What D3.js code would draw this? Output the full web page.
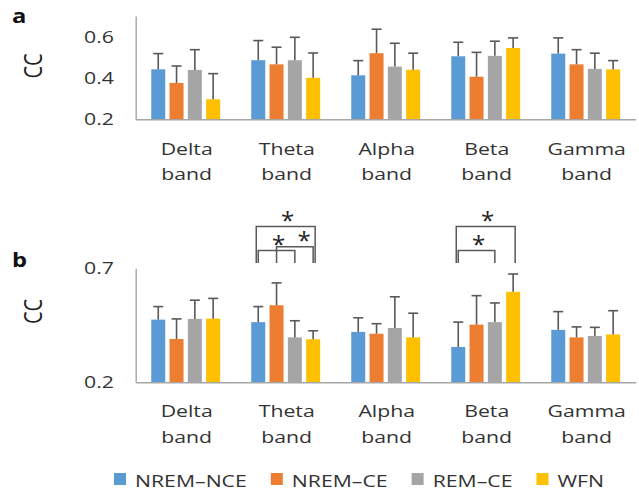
<!DOCTYPE html>
<html><head><meta charset="utf-8">
<script src="https://cdn.jsdelivr.net/npm/d3@7"></script>
<style>html,body{margin:0;padding:0;background:#fff;} svg{display:block;}</style>
</head><body>
<svg id="chart" width="639" height="491"></svg>
<script>
const bands = ["Delta", "Theta", "Alpha", "Beta", "Gamma"];
const bandLine2 = "band";
const series = ["NREM–NCE", "NREM–CE", "REM–CE", "WFN"];
const colors = ["#5B9BD5", "#ED7D31", "#A5A5A5", "#FFC000"];

// Panel a: means and upper error (SD) per band, series order as above
const aMean = [
  [0.442, 0.376, 0.439, 0.297],
  [0.486, 0.466, 0.486, 0.401],
  [0.413, 0.520, 0.455, 0.440],
  [0.505, 0.406, 0.507, 0.545],
  [0.518, 0.466, 0.444, 0.442]
];
const aSD = [
  [0.076, 0.082, 0.098, 0.124],
  [0.095, 0.083, 0.111, 0.120],
  [0.071, 0.116, 0.113, 0.080],
  [0.068, 0.118, 0.071, 0.049],
  [0.076, 0.071, 0.076, 0.042]
];
// Panel b
const bMean = [
  [0.475, 0.390, 0.478, 0.479],
  [0.464, 0.538, 0.397, 0.389],
  [0.421, 0.413, 0.438, 0.397],
  [0.355, 0.453, 0.464, 0.597],
  [0.430, 0.397, 0.403, 0.410]
];
const bSD = [
  [0.057, 0.088, 0.082, 0.089],
  [0.068, 0.098, 0.073, 0.037],
  [0.062, 0.044, 0.137, 0.106],
  [0.109, 0.127, 0.084, 0.078],
  [0.080, 0.046, 0.038, 0.104]
];
const aTicks = [0.2, 0.4, 0.6];
const bTicks = [0.2, 0.7];
const yDomain = [0.2, 0.7];
// significance brackets in panel b: band, from series, to series, nesting level
const sigBand = ["Theta", "Theta", "Theta", "Beta", "Beta"];
const sigFrom = [0, 0, 1, 0, 0];
const sigTo   = [3, 2, 3, 3, 2];
const sigLevel = [2, 0, 1, 2, 0];
const sigMark = "*";

const svg = d3.select("#chart");
const FONT = "'Open Sans', 'Noto Sans', sans-serif";
const SX = 1.25;
const TXT = "#333333";

function txt(g, x, y, s, o = {}) {
  const t = g.append("text")
    .attr("transform", `translate(${x},${y}) scale(${SX},1)` + (o.rot ? ` rotate(${o.rot})` : ""))
    .attr("font-family", FONT)
    .attr("font-size", o.size || 17)
    .attr("font-weight", o.weight || 400)
    .attr("fill", o.fill || TXT)
    .attr("text-anchor", o.anchor || "middle")
    .text(s);
  return t;
}

const x0 = d3.scaleBand().domain(bands).range([135.7, 635.7]).paddingInner(0.268).paddingOuter(0.134);
const x1 = d3.scaleBand().domain(series).range([0, x0.bandwidth()]).paddingInner(0.235).paddingOuter(0.1175);

function panel(means, sds, y, ticks, labelY, panelLetter, letterY, ccY) {
  const g = svg.append("g");
  bands.forEach((b, bi) => {
    series.forEach((s, si) => {
      const bx = x0(b) + x1(s);
      const v = means[bi][si];
      g.append("rect")
        .attr("x", bx).attr("width", x1.bandwidth())
        .attr("y", y(v)).attr("height", y(yDomain[0]) - y(v))
        .attr("fill", colors[si]);
      const cx = bx + x1.bandwidth() / 2;
      const top = y(v + sds[bi][si]);
      g.append("line").attr("x1", cx).attr("x2", cx).attr("y1", y(v)).attr("y2", top)
        .attr("stroke", "#595959").attr("stroke-width", 1.6);
      g.append("line").attr("x1", cx - 5).attr("x2", cx + 5).attr("y1", top).attr("y2", top)
        .attr("stroke", "#595959").attr("stroke-width", 1.6);
    });
  });
  const ya = d3.axisLeft(y).tickValues(ticks).tickSize(0).tickSizeOuter(0).tickPadding(0).tickFormat(d3.format(".1f"));
  const yg = g.append("g").attr("transform", `translate(${x0.range()[0]},0)`).call(ya);
  yg.select(".domain").attr("stroke", "#a6a6a6").attr("stroke-width", 1.4);
  yg.selectAll(".tick text").remove();
  ticks.forEach(t => txt(g, 114, y(t) + 6, d3.format(".1f")(t), {anchor: "end", size: 17}));
  const xa = d3.axisBottom(x0).tickSize(0).tickSizeOuter(0).tickFormat("");
  const xg = g.append("g").attr("transform", `translate(0,${y(yDomain[0])})`).call(xa);
  xg.select(".domain").attr("stroke", "#a6a6a6").attr("stroke-width", 1.6);
  bands.forEach(b => {
    const cx = x0(b) + x0.bandwidth() / 2 + 1;
    txt(g, cx, labelY, b, {size: 17});
    txt(g, cx, labelY + 25.5, bandLine2, {size: 17});
  });
  txt(g, 12, letterY, panelLetter, {anchor: "start", size: 19, weight: 700, fill: "#111"});
  txt(g, 42, ccY, "CC", {rot: -90, size: 20, fill: "#222"});
  return g;
}

const yA = d3.scaleLinear().domain(yDomain).range([119.3, 16]);
const yB = d3.scaleLinear().domain(yDomain).range([382.3, 268.3]);

panel(aMean, aSD, yA, aTicks, 154.7, "a", 23, 66);
const gb = panel(bMean, bSD, yB, bTicks, 417.3, "b", 266.5, 311.5);

const levelTop = [250.5, 246.7, 226.5];
const legBottom = 263;
sigBand.forEach((b, i) => {
  const c = k => x0(b) + x1(series[k]) + x1.bandwidth() / 2;
  const pad = sigLevel[i] === 2 ? 2 : 0;
  const xa = c(sigFrom[i]) - pad, xb = c(sigTo[i]) + pad;
  const ty = levelTop[sigLevel[i]];
  gb.append("path")
    .attr("d", `M${xa},${legBottom}V${ty}H${xb}V${legBottom}`)
    .attr("fill", "none").attr("stroke", "#595959").attr("stroke-width", 1.5);
  const sx = sigLevel[i] === 1 ? xa + (xb - xa) * 0.75 : (xa + xb) / 2 + 2;
  gb.append("text").attr("x", sx).attr("y", ty + 2)
    .attr("font-family", FONT).attr("font-size", 24).attr("fill", "#222")
    .attr("text-anchor", "middle").text(sigMark);
});

const lg = svg.append("g");
let lx = 114;
series.forEach((s, i) => {
  lg.append("rect").attr("x", lx).attr("y", 473).attr("width", 12).attr("height", 12).attr("fill", colors[i]);
  const t = txt(lg, lx + 21, 487, s, {anchor: "start", size: 17});
  const w = t.node().getComputedTextLength() * SX;
  lx += 21 + w + 24;
});
</script>
</body></html>
